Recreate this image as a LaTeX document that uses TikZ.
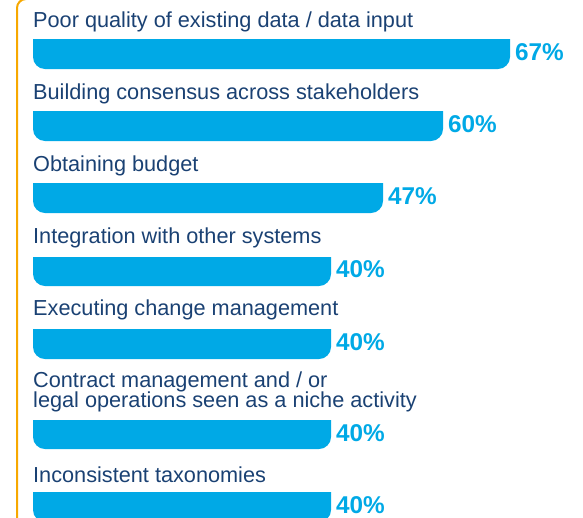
\documentclass[tikz,border=0pt]{standalone}
\usepackage{fontspec}
\setmainfont{Liberation Sans}
\definecolor{barblue}{RGB}{0,169,230}
\definecolor{labelnavy}{HTML}{1A4173}
\definecolor{edgeorange}{RGB}{247,168,0}
\tikzset{
  lbl/.style={anchor=base west,inner sep=0pt,text=labelnavy,font=\fontsize{21.7}{21}\selectfont,align=left},
  pct/.style={anchor=base west,inner sep=0pt,text=barblue,font=\fontsize{24.3}{24}\selectfont\bfseries},
  barfill/.style={fill=barblue}
}
\begin{document}
\begin{tikzpicture}[x=1pt,y=-1pt]
\useasboundingbox (0,0) rectangle (583,517);

\draw[edgeorange,line width=2pt,rounded corners=9pt] (17,530) -- (17,-1) -- (26,-1);%edge

\node[lbl] (lblquality) at (33,27) {Poor quality of existing data / data input};
\fill[barfill] (33,39) -- (510,39) [rounded corners=12pt] -- (510,69) -- (33,69) [sharp corners] -- cycle;
\node[pct] (pctquality) at (515,60.5) {67\%};

\node[lbl] (lblconsensus) at (33,99) {Building consensus across stakeholders};
\fill[barfill] (33,111) -- (443,111) [rounded corners=12pt] -- (443,141) -- (33,141) [sharp corners] -- cycle;
\node[pct] (pctconsensus) at (448,132.5) {60\%};

\node[lbl] (lblbudget) at (33,171) {Obtaining budget};
\fill[barfill] (33,183) -- (383,183) [rounded corners=12pt] -- (383,213) -- (33,213) [sharp corners] -- cycle;
\node[pct] (pctbudget) at (388,204.5) {47\%};

\node[lbl] (lblintegration) at (33,243) {Integration with other systems};
\fill[barfill] (33,257) -- (331,257) [rounded corners=12pt] -- (331,286) -- (33,286) [sharp corners] -- cycle;
\node[pct] (pctintegration) at (336,277.5) {40\%};

\node[lbl] (lblchange) at (33,315) {Executing change management};
\fill[barfill] (33,329) -- (331,329) [rounded corners=12pt] -- (331,359) -- (33,359) [sharp corners] -- cycle;
\node[pct] (pctchange) at (336,350.5) {40\%};

\node[lbl,anchor=north west] (lblcontract) at (33,372) {Contract management and / or\\[-1pt]legal operations seen as a niche activity};
\fill[barfill] (33,420) -- (331,420) [rounded corners=12pt] -- (331,449) -- (33,449) [sharp corners] -- cycle;
\node[pct] (pctcontract) at (336,441) {40\%};

\node[lbl] (lbltaxonomy) at (33,482) {Inconsistent taxonomies};
\fill[barfill] (33,492) -- (331,492) [rounded corners=12pt] -- (331,522) -- (33,522) [sharp corners] -- cycle;
\node[pct] (pcttaxonomy) at (336,513) {40\%};
\end{tikzpicture}
\end{document}
